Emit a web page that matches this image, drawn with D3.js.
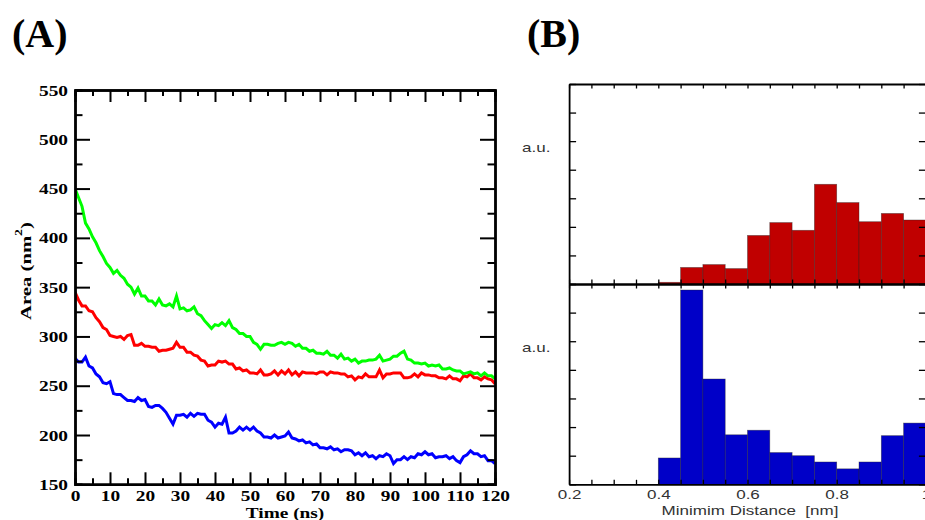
<!DOCTYPE html>
<html>
<head>
<meta charset="utf-8">
<script src="https://cdn.jsdelivr.net/npm/d3@7"></script>
<style>
  html, body { margin: 0; padding: 0; background: #fff; }
  svg { display: block; }
</style>
</head>
<body>
<svg id="fig" width="925" height="520"></svg>
<script>
// ---------- Panel A: surface area over simulation time (1 ns sampling) ----------
const greenArea = [
  450,441,432,415,409,401,395,387,381,374,
  370,364,367,362,359,353,350,343,349,341,
  341,336,336,332,338,332,331,333,330,341,
  328,329,326,327,330,323,321,316,312,308,
  312,311,314,311,316,309,307,303,303,300,
  300,294,292,287,292,292,291,291,293,294,
  292,294,293,290,292,288,288,285,286,283,
  283,282,285,281,281,278,282,277,278,275,
  277,273,275,275,276,276,277,281,275,276,
  277,280,280,283,285,277,276,273,273,272,
  273,270,271,270,271,267,267,268,266,265,
  265,262,263,264,262,263,260,263,260,260,
  257
];
const redArea = [
  345,337,331,331,326,325,319,315,309,307,
  301,300,299,300,297,301,302,291,291,293,
  290,290,289,289,285,286,286,287,288,294,
  289,289,284,284,281,280,276,275,270,271,
  271,275,274,275,272,272,267,268,265,266,
  263,263,262,266,261,261,262,265,261,265,
  262,266,261,264,260,264,263,263,263,262,
  264,264,261,264,263,263,262,262,259,260,
  256,259,258,262,259,259,259,266,258,262,
  262,263,263,263,258,258,259,262,259,263,
  261,261,260,260,258,258,257,260,257,257,
  255,260,259,262,258,258,256,259,257,256,
  252
];
const blueArea = [
  278,274,274,279,270,268,262,259,253,252,
  254,242,241,241,238,235,235,234,238,235,
  236,229,228,230,230,227,223,217,211,220,
  220,221,218,222,219,222,221,221,215,213,
  208,212,211,218,202,202,204,208,205,208,
  205,208,204,202,198,198,197,200,197,198,
  199,203,197,196,194,195,192,193,190,191,
  187,187,186,188,185,186,183,185,185,184,
  180,182,179,182,178,179,176,179,178,181,
  179,171,175,175,178,175,178,177,181,180,
  183,180,181,177,178,178,179,176,178,174,
  172,178,180,184,181,181,178,179,174,174,
  171
];
const timeStepNs = 1;

const areaTicks      = [150, 200, 250, 300, 350, 400, 450, 500, 550];
const areaMinorTicks = [175, 225, 275, 325, 375, 425, 475, 525];
const timeTicks      = [0, 10, 20, 30, 40, 50, 60, 70, 80, 90, 100, 110, 120];
const timeMinorTicks = [5, 15, 25, 35, 45, 55, 65, 75, 85, 95, 105, 115];

// ---------- Panel B: minimum-distance histograms (bin width 0.05 nm) ----------
const binStart = [0.40, 0.45, 0.50, 0.55, 0.60, 0.65, 0.70, 0.75, 0.80, 0.85, 0.90, 0.95];
const binWidth = 0.05;
const redFreq  = [0.06, 0.58, 0.68, 0.54, 1.70, 2.15, 1.88, 3.49, 2.85, 2.18, 2.47, 2.24];
const blueFreq = [0.92, 6.79, 3.68, 1.73, 1.89, 1.11, 1.00, 0.78, 0.54, 0.78, 1.70, 2.14];

const distanceTicks      = [0.2, 0.4, 0.6, 0.8, 1.0];
const distanceMinorTicks = [0.2, 0.25, 0.3, 0.35, 0.4, 0.45, 0.5, 0.55, 0.6, 0.65, 0.7, 0.75,
                            0.8, 0.85, 0.9, 0.95, 1.0];
const auTicks = [0, 1, 2, 3, 4, 5, 6, 7];

const svg = d3.select("#fig");
const SERIF = "'Liberation Serif','Times New Roman',Times,serif";
const SANS  = "'Liberation Sans',Arial,Helvetica,sans-serif";

// ================= Panel A =================
const A = { left: 75, right: 495, top: 90, bottom: 484.3 };
const xA = d3.scaleLinear().domain([0, 120]).range([A.left, A.right]);
const yA = d3.scaleLinear().domain([150, 550]).range([A.bottom, A.top]);
const stretchA = "scale(1.38,1)";

svg.append("defs").append("clipPath").attr("id", "clipA")
  .append("rect").attr("x", A.left).attr("y", A.top)
  .attr("width", A.right - A.left).attr("height", A.bottom - A.top);

const line = d3.line()
  .x((d, i) => xA(i * timeStepNs))
  .y(d => yA(d));

const traces = svg.append("g").attr("clip-path", "url(#clipA)");
[[redArea, "#ff0000"], [greenArea, "#00ff00"], [blueArea, "#0000ff"]].forEach(([vals, col]) => {
  traces.append("path").datum(vals)
    .attr("d", line)
    .attr("fill", "none")
    .attr("stroke", col)
    .attr("stroke-width", 3)
    .attr("stroke-linejoin", "miter");
});

function styleFrame(g, domainW, tickW) {
  g.select(".domain").attr("stroke", "#000").attr("stroke-width", domainW);
  g.selectAll(".tick line").attr("stroke", "#000").attr("stroke-width", tickW);
  return g;
}

// minor ticks on all four sides
styleFrame(svg.append("g").attr("transform", `translate(0,${A.bottom})`)
  .call(d3.axisBottom(xA).tickValues(timeMinorTicks).tickSize(-6).tickFormat("")), 2.4, 2);
styleFrame(svg.append("g").attr("transform", `translate(0,${A.top})`)
  .call(d3.axisTop(xA).tickValues(timeMinorTicks).tickSize(-6).tickFormat("")), 2.4, 2);
styleFrame(svg.append("g").attr("transform", `translate(${A.left},0)`)
  .call(d3.axisLeft(yA).tickValues(areaMinorTicks).tickSize(-7.5).tickFormat("")), 2.4, 2);
styleFrame(svg.append("g").attr("transform", `translate(${A.right},0)`)
  .call(d3.axisRight(yA).tickValues(areaMinorTicks).tickSize(-7.5).tickFormat("")), 2.4, 2);

// major ticks
styleFrame(svg.append("g").attr("transform", `translate(0,${A.top})`)
  .call(d3.axisTop(xA).tickValues(timeTicks).tickSize(-12).tickSizeOuter(0).tickFormat("")), 2.4, 2);
styleFrame(svg.append("g").attr("transform", `translate(${A.right},0)`)
  .call(d3.axisRight(yA).tickValues(areaTicks).tickSize(-15).tickSizeOuter(0).tickFormat("")), 2.4, 2);

const xAxisA = styleFrame(svg.append("g").attr("transform", `translate(0,${A.bottom})`)
  .call(d3.axisBottom(xA).tickValues(timeTicks).tickSize(-12).tickSizeOuter(0)), 2.4, 2);
xAxisA.attr("font-family", SERIF).attr("font-size", 14).attr("font-weight", "bold");
xAxisA.selectAll(".tick text")
  .attr("y", null).attr("dy", null).attr("fill", "#000")
  .attr("text-anchor", "middle")
  .attr("transform", `translate(0,16.8) ${stretchA}`);

const yAxisA = styleFrame(svg.append("g").attr("transform", `translate(${A.left},0)`)
  .call(d3.axisLeft(yA).tickValues(areaTicks).tickSize(-15).tickSizeOuter(0)), 2.4, 2);
yAxisA.attr("font-family", SERIF).attr("font-size", 14).attr("font-weight", "bold");
yAxisA.selectAll(".tick text")
  .attr("x", null).attr("dy", null).attr("fill", "#000")
  .attr("text-anchor", "end")
  .attr("transform", `translate(-7,5) ${stretchA}`);

svg.append("text")
  .attr("transform", `translate(${(A.left + A.right) / 2},517.5) ${stretchA}`)
  .attr("text-anchor", "middle")
  .attr("font-family", SERIF).attr("font-size", 14).attr("font-weight", "bold")
  .text("Time (ns)");

const yLab = svg.append("text")
  .attr("transform", `translate(31,271) rotate(-90) ${stretchA}`)
  .attr("text-anchor", "middle")
  .attr("font-family", SERIF).attr("font-size", 15).attr("font-weight", "bold");
yLab.append("tspan").text("Area (nm");
yLab.append("tspan").attr("font-size", 10).attr("dy", -9).text("2");
yLab.append("tspan").attr("dy", 9).text(")");

// ================= Panel B =================
const B = { left: 569.1, right: 925.9, top: 84, mid: 284, bottom: 484.3 };
const xB = d3.scaleLinear().domain([0.2, 1.0]).range([B.left, B.right]);
const yTop = d3.scaleLinear().domain([0, 7]).range([B.mid, B.top]);
const yBot = d3.scaleLinear().domain([0, 7]).range([B.bottom, B.mid]);
const stretchB = "scale(1.42,1)";

function bars(vals, yScale, fill) {
  svg.append("g").selectAll("rect").data(vals).join("rect")
    .attr("x", (d, i) => xB(binStart[i]))
    .attr("width", (d, i) => xB(binStart[i] + binWidth) - xB(binStart[i]))
    .attr("y", d => yScale(d))
    .attr("height", d => yScale(0) - yScale(d))
    .attr("fill", fill)
    .attr("stroke", "rgba(40,40,40,0.55)")
    .attr("stroke-width", 0.7);
}
bars(redFreq, yTop, "#c00000");
bars(blueFreq, yBot, "#0000c8");

function panelFrame(yScale, yTopEdge, yBottomEdge) {
  styleFrame(svg.append("g").attr("transform", `translate(${B.left},0)`)
    .call(d3.axisLeft(yScale).tickValues(auTicks).tickSize(-7).tickSizeOuter(0).tickFormat("")), 1.8, 1.3);
  styleFrame(svg.append("g").attr("transform", `translate(${B.right},0)`)
    .call(d3.axisRight(yScale).tickValues(auTicks).tickSize(-7).tickSizeOuter(0).tickFormat("")), 1.8, 1.3);
  styleFrame(svg.append("g").attr("transform", `translate(0,${yTopEdge})`)
    .call(d3.axisTop(xB).tickValues(distanceMinorTicks).tickSize(-4.5).tickSizeOuter(0).tickFormat("")), 1.8, 1.3);
  return styleFrame(svg.append("g").attr("transform", `translate(0,${yBottomEdge})`)
    .call(d3.axisBottom(xB).tickValues(distanceMinorTicks).tickSize(-4.5).tickSizeOuter(0).tickFormat("")), 1.8, 1.3);
}
panelFrame(yTop, B.top, B.mid);
panelFrame(yBot, B.mid, B.bottom);

const xAxisB = svg.append("g").attr("transform", `translate(0,${B.bottom})`)
  .call(d3.axisBottom(xB).tickValues(distanceTicks).tickSize(0).tickFormat(d3.format("~g")));
xAxisB.select(".domain").remove();
xAxisB.attr("font-family", SANS).attr("font-size", 12);
xAxisB.selectAll(".tick text")
  .attr("y", null).attr("dy", null).attr("fill", "#333")
  .attr("transform", `translate(0,14.3) ${stretchB}`);

svg.append("text")
  .attr("transform", `translate(750,515) ${stretchB}`)
  .attr("text-anchor", "middle")
  .attr("font-family", SANS).attr("font-size", 12).attr("fill", "#333")
  .attr("xml:space", "preserve")
  .text("Minimim Distance  [nm]");

[[151.5], [351.5]].forEach(([yy]) => {
  svg.append("text")
    .attr("transform", `translate(522,${yy}) ${stretchB}`)
    .attr("font-family", SANS).attr("font-size", 12).attr("fill", "#333")
    .text("a.u.");
});

// ---------- panel letters ----------
svg.append("text").attr("x", 12).attr("y", 47)
  .attr("font-family", SERIF).attr("font-size", 40).attr("font-weight", "bold")
  .text("(A)");
svg.append("text").attr("x", 527).attr("y", 47)
  .attr("font-family", SERIF).attr("font-size", 40).attr("font-weight", "bold")
  .text("(B)");
</script>
</body>
</html>
